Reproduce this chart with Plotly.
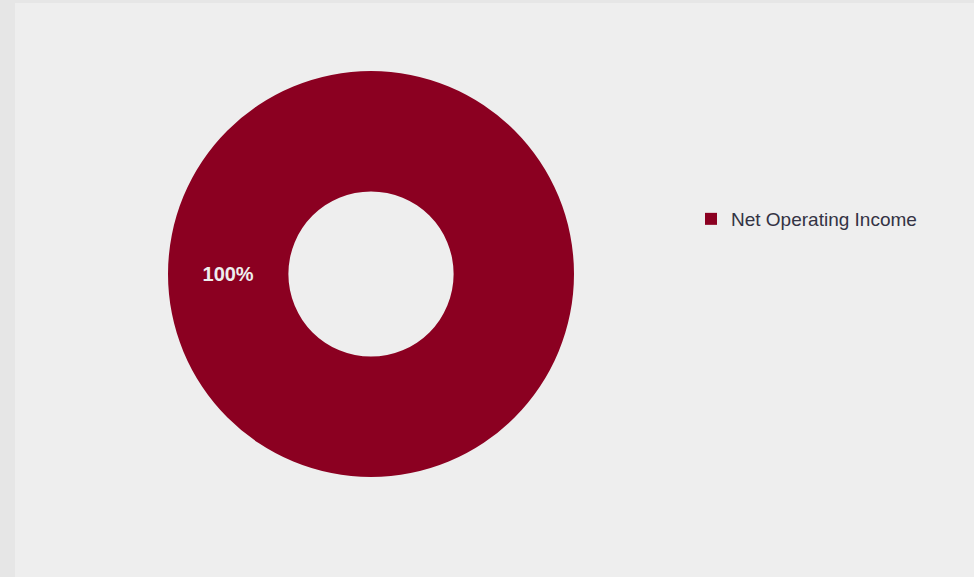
import plotly.graph_objects as go

labels = ["Net Operating Income"]
values = [100]
colors = ["#8B0021"]

W, H = 974, 577
cx, cy, R = 371, 274, 203

fig = go.Figure(go.Pie(
    labels=labels,
    values=values,
    hole=0.407,
    marker=dict(colors=colors, line=dict(width=0)),
    textinfo="percent",
    texttemplate="%{percent:.0%}",
    textposition="inside",
    insidetextorientation="horizontal",
    textfont=dict(family="Liberation Sans, Arial", size=20, color="#eeeeee", weight="bold"),
    rotation=90,
    sort=False,
    domain=dict(x=[(cx - R) / W, (cx + R) / W], y=[(H - cy - R) / H, (H - cy + R) / H]),
    hoverinfo="label+percent",
))

fig.update_layout(
    width=W, height=H,
    margin=dict(l=0, r=0, t=0, b=0),
    paper_bgcolor="#e6e6e6",
    plot_bgcolor="#eeeeee",
    showlegend=True,
    legend=dict(
        x=(731 - 40) / W, y=(H - 219) / H, xanchor="left", yanchor="middle",
        font=dict(family="Liberation Sans, Arial", size=19, color="#333344"),
        bgcolor="rgba(0,0,0,0)",
    ),
    shapes=[dict(type="rect", xref="paper", yref="paper",
                 x0=15 / W, x1=1, y0=0, y1=1 - 3 / H,
                 fillcolor="#eeeeee", line=dict(width=0), layer="below")],
)

fig.write_html("out.html")
